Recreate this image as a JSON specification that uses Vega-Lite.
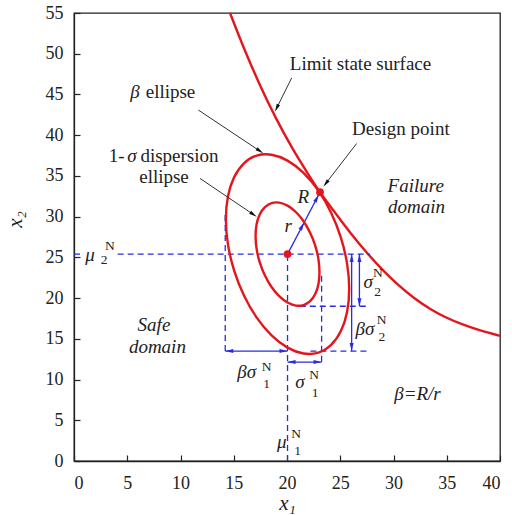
{
  "$schema": "https://vega.github.io/schema/vega-lite/v6.json",
  "width": 426,
  "height": 448,
  "autosize": {"type": "none"},
  "padding": {"left": 74, "top": 13, "right": 12, "bottom": 54},
  "background": "white",
  "config": {
    "font": "'Liberation Serif', 'DejaVu Serif', serif",
    "view": {"stroke": "#222", "strokeWidth": 1.3},
    "axis": {"grid": false, "domainColor": "#222", "domainWidth": 1.3, "tickColor": "#222", "tickSize": -6, "tickWidth": 1.2, "labelFont": "'Liberation Serif', 'DejaVu Serif', serif", "labelFontSize": 18, "labelColor": "#222", "titleFont": "'Liberation Serif', 'DejaVu Serif', serif", "titleFontSize": 21, "titleFontStyle": "italic", "titleFontWeight": "normal", "titleColor": "#222"},
    "axisX": {"labelPadding": 19, "titleY": 48, "titleBaseline": "alphabetic"},
    "axisY": {"labelPadding": 17, "titleX": -53, "titleY": 206, "titleBaseline": "alphabetic", "titleAngle": 270, "titleAlign": "center"},
    "text": {"font": "'Liberation Serif', 'DejaVu Serif', serif", "fontSize": 19, "color": "#222"}
  },
  "datasets": {
    "ellipses": [
      {"e": "inner", "t": 0, "x": 23.05, "y": 23.18}, {"e": "inner", "t": 15, "x": 22.95, "y": 24.79}, {"e": "inner", "t": 30, "x": 22.65, "y": 26.45}, {"e": "inner", "t": 45, "x": 22.17, "y": 28.03}, {"e": "inner", "t": 60, "x": 21.55, "y": 29.44}, {"e": "inner", "t": 75, "x": 20.83, "y": 30.57}, {"e": "inner", "t": 90, "x": 20.05, "y": 31.35}, {"e": "inner", "t": 105, "x": 19.27, "y": 31.72}, {"e": "inner", "t": 120, "x": 18.55, "y": 31.66}, {"e": "inner", "t": 135, "x": 17.93, "y": 31.18}, {"e": "inner", "t": 150, "x": 17.45, "y": 30.3}, {"e": "inner", "t": 165, "x": 17.15, "y": 29.09}, {"e": "inner", "t": 180, "x": 17.05, "y": 27.62}, {"e": "inner", "t": 195, "x": 17.15, "y": 26.01}, {"e": "inner", "t": 210, "x": 17.45, "y": 24.35}, {"e": "inner", "t": 225, "x": 17.93, "y": 22.77}, {"e": "inner", "t": 240, "x": 18.55, "y": 21.36}, {"e": "inner", "t": 255, "x": 19.27, "y": 20.23}, {"e": "inner", "t": 270, "x": 20.05, "y": 19.45}, {"e": "inner", "t": 285, "x": 20.83, "y": 19.08}, {"e": "inner", "t": 300, "x": 21.55, "y": 19.14}, {"e": "inner", "t": 315, "x": 22.17, "y": 19.62}, {"e": "inner", "t": 330, "x": 22.65, "y": 20.5}, {"e": "inner", "t": 345, "x": 22.95, "y": 21.71},
      {"e": "beta", "t": 0, "x": 25.84, "y": 21.11}, {"e": "beta", "t": 15, "x": 25.64, "y": 24.23}, {"e": "beta", "t": 30, "x": 25.06, "y": 27.43}, {"e": "beta", "t": 45, "x": 24.14, "y": 30.48}, {"e": "beta", "t": 60, "x": 22.95, "y": 33.2}, {"e": "beta", "t": 75, "x": 21.55, "y": 35.38}, {"e": "beta", "t": 90, "x": 20.05, "y": 36.88}, {"e": "beta", "t": 105, "x": 18.55, "y": 37.6}, {"e": "beta", "t": 120, "x": 17.155, "y": 37.49}, {"e": "beta", "t": 135, "x": 15.96, "y": 36.55}, {"e": "beta", "t": 150, "x": 15.04, "y": 34.85}, {"e": "beta", "t": 165, "x": 14.46, "y": 32.51}, {"e": "beta", "t": 180, "x": 14.26, "y": 29.69}, {"e": "beta", "t": 195, "x": 14.46, "y": 26.57}, {"e": "beta", "t": 210, "x": 15.04, "y": 23.37}, {"e": "beta", "t": 225, "x": 15.96, "y": 20.32}, {"e": "beta", "t": 240, "x": 17.155, "y": 17.6}, {"e": "beta", "t": 255, "x": 18.55, "y": 15.42}, {"e": "beta", "t": 270, "x": 20.05, "y": 13.92}, {"e": "beta", "t": 285, "x": 21.55, "y": 13.2}, {"e": "beta", "t": 300, "x": 22.95, "y": 13.31}, {"e": "beta", "t": 315, "x": 24.14, "y": 14.25}, {"e": "beta", "t": 330, "x": 25.06, "y": 15.95}, {"e": "beta", "t": 345, "x": 25.64, "y": 18.29}
    ],
    "limit": [
      {"x": 14.65, "y": 55}, {"x": 16, "y": 50.55}, {"x": 17.5, "y": 46.05}, {"x": 19, "y": 42.0}, {"x": 20.5, "y": 38.4}, {"x": 22, "y": 35.2}, {"x": 23.1, "y": 33.0}, {"x": 24.5, "y": 30.52}, {"x": 26, "y": 27.94}, {"x": 27.5, "y": 25.57}, {"x": 29, "y": 23.44}, {"x": 30.5, "y": 21.565}, {"x": 32, "y": 19.96}, {"x": 33.5, "y": 18.64}, {"x": 35, "y": 17.59}, {"x": 36.5, "y": 16.765}, {"x": 38, "y": 16.09}, {"x": 40, "y": 15.37}
    ],
    "dashed": [
      {"x": 0, "y": 25.4, "x2": 0.6, "y2": 25.4},
      {"x": 4.1, "y": 25.4, "x2": 27.8, "y2": 25.4},
      {"x": 20.05, "y": 0, "x2": 20.05, "y2": 25.4},
      {"x": 14.2, "y": 13.5, "x2": 14.2, "y2": 30.6},
      {"x": 23.25, "y": 12.2, "x2": 23.25, "y2": 23.24},
      {"x": 21.2, "y": 19.0, "x2": 27.5, "y2": 19.0},
      {"x": 22.2, "y": 13.5, "x2": 27.8, "y2": 13.5}
    ],
    "bluelines": [
      {"x": 14.2, "y": 13.5, "x2": 20.05, "y2": 13.5},
      {"x": 20.05, "y": 12.15, "x2": 23.25, "y2": 12.15},
      {"x": 26.07, "y": 25.4, "x2": 26.07, "y2": 13.5},
      {"x": 26.8, "y": 25.4, "x2": 26.8, "y2": 19.0},
      {"x": 20.05, "y": 25.4, "x2": 23.1, "y2": 33.0}
    ],
    "blueheads": [
      {"x": 14.58, "y": 13.5, "a": 270}, {"x": 19.67, "y": 13.5, "a": 90},
      {"x": 20.43, "y": 12.15, "a": 270}, {"x": 22.87, "y": 12.15, "a": 90},
      {"x": 26.07, "y": 24.91, "a": 0}, {"x": 26.07, "y": 13.99, "a": 180},
      {"x": 26.8, "y": 24.91, "a": 0}, {"x": 26.8, "y": 19.49, "a": 180},
      {"x": 21.42, "y": 28.82, "a": 27.7}, {"x": 22.8, "y": 32.24, "a": 27.7}
    ],
    "pointers": [
      {"x": 20.44, "y": 47.03, "x2": 19.03, "y2": 43.33},
      {"x": 26.54, "y": 38.98, "x2": 23.64, "y2": 34.07},
      {"x": 11.67, "y": 43.09, "x2": 17.46, "y2": 38.05},
      {"x": 11.83, "y": 34.69, "x2": 16.85, "y2": 30.26}
    ],
    "pointerheads": [
      {"x": 19.03, "y": 43.33, "a": 205.5},
      {"x": 23.64, "y": 34.07, "a": 217.6},
      {"x": 17.46, "y": 38.05, "a": 123.7},
      {"x": 16.85, "y": 30.26, "a": 124.1}
    ],
    "dots": [{"x": 20.05, "y": 25.4}, {"x": 23.1, "y": 33.0}],
    "textRegular": [
      {"x": 26.9, "y": 48.0, "t": "Limit state surface"},
      {"x": 30.69, "y": 40.02, "t": "Design point"},
      {"x": 9.06, "y": 44.53, "t": "ellipse"},
      {"x": 4.0, "y": 36.75, "t": "1-"},
      {"x": 9.9, "y": 36.75, "t": "dispersion"},
      {"x": 8.45, "y": 34.09, "t": "ellipse"}
    ],
    "textItalic": [
      {"x": 5.73, "y": 44.53, "t": "β"},
      {"x": 5.45, "y": 36.75, "t": "σ"},
      {"x": 32.09, "y": 33.06, "t": "Failure"},
      {"x": 32.16, "y": 30.41, "t": "domain"},
      {"x": 7.51, "y": 15.9, "t": "Safe"},
      {"x": 7.83, "y": 13.3, "t": "domain"},
      {"x": 32.25, "y": 7.49, "t": "β=R/r"},
      {"x": 21.53, "y": 31.68, "t": "R"},
      {"x": 20.12, "y": 28.15, "t": "r"},
      {"x": 1.5, "y": 24.55, "t": "μ"},
      {"x": 19.5, "y": 1.6, "t": "μ"},
      {"x": 16.21, "y": 10.19, "t": "βσ"},
      {"x": 21.22, "y": 8.96, "t": "σ"},
      {"x": 27.63, "y": 21.24, "t": "σ"},
      {"x": 27.32, "y": 15.47, "t": "βσ"}
    ],
    "textSmall": [
      {"x": 3.38, "y": 25.95, "t": "N"}, {"x": 2.82, "y": 24.2, "t": "2"},
      {"x": 20.85, "y": 2.85, "t": "N"}, {"x": 20.99, "y": 0.75, "t": "1"},
      {"x": 18.09, "y": 11.1, "t": "N"}, {"x": 18.09, "y": 9.0, "t": "1"},
      {"x": 22.54, "y": 10.05, "t": "N"}, {"x": 22.63, "y": 7.8, "t": "1"},
      {"x": 28.54, "y": 22.6, "t": "N"}, {"x": 28.5, "y": 20.3, "t": "2"},
      {"x": 28.89, "y": 16.8, "t": "N"}, {"x": 28.92, "y": 14.75, "t": "2"}
    ]
  },
  "layer": [
    {
      "data": {"name": "limit"},
      "mark": {"type": "line", "color": "#e3161c", "strokeWidth": 2.4, "interpolate": "monotone"},
      "encoding": {
        "x": {"field": "x", "type": "quantitative", "scale": {"domain": [0, 40], "nice": false}, "axis": {"values": [0, 5, 10, 15, 20, 25, 30, 35, 40]}, "title": "x₁"},
        "y": {"field": "y", "type": "quantitative", "scale": {"domain": [0, 55], "nice": false}, "axis": {"values": [0, 5, 10, 15, 20, 25, 30, 35, 40, 45, 50, 55]}, "title": "x₂"}
      }
    },
    {
      "data": {"name": "dashed"},
      "mark": {"type": "rule", "color": "#2a2ae6", "strokeWidth": 1.3, "strokeDash": [6, 4]},
      "encoding": {
        "x": {"field": "x", "type": "quantitative", "title": "x₁"},
        "y": {"field": "y", "type": "quantitative", "title": "x₂"},
        "x2": {"field": "x2"},
        "y2": {"field": "y2"}
      }
    },
    {
      "data": {"name": "bluelines"},
      "mark": {"type": "rule", "color": "#2a2ae6", "strokeWidth": 1.3},
      "encoding": {
        "x": {"field": "x", "type": "quantitative", "title": "x₁"},
        "y": {"field": "y", "type": "quantitative", "title": "x₂"},
        "x2": {"field": "x2"},
        "y2": {"field": "y2"}
      }
    },
    {
      "data": {"name": "ellipses"},
      "mark": {"type": "line", "color": "#e3161c", "strokeWidth": 2.4, "interpolate": "cardinal-closed"},
      "encoding": {
        "x": {"field": "x", "type": "quantitative", "title": "x₁"},
        "y": {"field": "y", "type": "quantitative", "title": "x₂"},
        "detail": {"field": "e"},
        "order": {"field": "t", "type": "quantitative"}
      }
    },
    {
      "data": {"name": "blueheads"},
      "mark": {"type": "point", "shape": "M0,-1L0.5,1L-0.5,1Z", "size": 64, "filled": true, "color": "#2a2ae6", "opacity": 1},
      "encoding": {
        "x": {"field": "x", "type": "quantitative", "title": "x₁"},
        "y": {"field": "y", "type": "quantitative", "title": "x₂"},
        "angle": {"field": "a", "type": "quantitative", "scale": null}
      }
    },
    {
      "data": {"name": "pointers"},
      "mark": {"type": "rule", "color": "#333", "strokeWidth": 1},
      "encoding": {
        "x": {"field": "x", "type": "quantitative", "title": "x₁"},
        "y": {"field": "y", "type": "quantitative", "title": "x₂"},
        "x2": {"field": "x2"},
        "y2": {"field": "y2"}
      }
    },
    {
      "data": {"name": "pointerheads"},
      "mark": {"type": "point", "shape": "M0,-1L0.45,1L-0.45,1Z", "size": 64, "filled": true, "color": "#111", "opacity": 1},
      "encoding": {
        "x": {"field": "x", "type": "quantitative", "title": "x₁"},
        "y": {"field": "y", "type": "quantitative", "title": "x₂"},
        "angle": {"field": "a", "type": "quantitative", "scale": null}
      }
    },
    {
      "data": {"name": "dots"},
      "mark": {"type": "circle", "size": 60, "color": "#e8141c", "opacity": 1},
      "encoding": {
        "x": {"field": "x", "type": "quantitative", "title": "x₁"},
        "y": {"field": "y", "type": "quantitative", "title": "x₂"}
      }
    },
    {
      "data": {"name": "textRegular"},
      "mark": {"type": "text", "align": "center", "baseline": "alphabetic", "fontSize": 19},
      "encoding": {
        "x": {"field": "x", "type": "quantitative", "title": "x₁"},
        "y": {"field": "y", "type": "quantitative", "title": "x₂"},
        "text": {"field": "t"}
      }
    },
    {
      "data": {"name": "textItalic"},
      "mark": {"type": "text", "align": "center", "baseline": "alphabetic", "fontSize": 19, "fontStyle": "italic"},
      "encoding": {
        "x": {"field": "x", "type": "quantitative", "title": "x₁"},
        "y": {"field": "y", "type": "quantitative", "title": "x₂"},
        "text": {"field": "t"}
      }
    },
    {
      "data": {"name": "textSmall"},
      "mark": {"type": "text", "align": "center", "baseline": "alphabetic", "fontSize": 13.5},
      "encoding": {
        "x": {"field": "x", "type": "quantitative", "title": "x₁"},
        "y": {"field": "y", "type": "quantitative", "title": "x₂"},
        "text": {"field": "t"}
      }
    }
  ]
}
